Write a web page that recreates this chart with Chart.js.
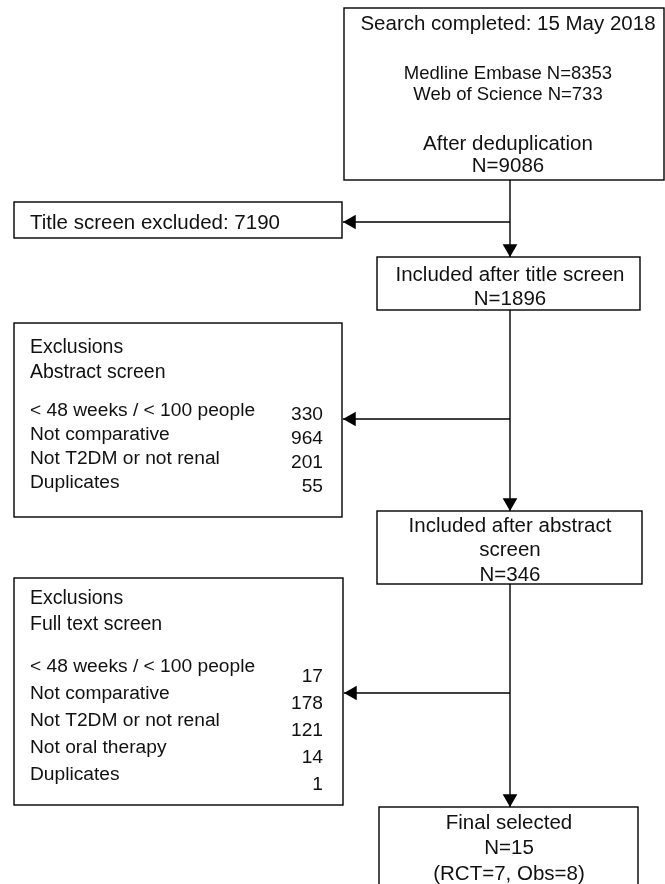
<!DOCTYPE html>
<html>
<head>
<meta charset="utf-8">
<script src="https://cdn.jsdelivr.net/npm/chart.js@4.4.0/dist/chart.umd.min.js"></script>
<style>
  html, body { margin: 0; padding: 0; background: #fff; }
  #wrap { width: 665px; height: 884px; position: relative; }
</style>
</head>
<body>
<div id="wrap"><canvas id="flow"></canvas></div>
<script>
// Flow data (text and counts)
const searchDate = '15 May 2018';
const sourceNames = ['Medline Embase', 'Web of Science'];
const sourceCounts = [8353, 733];
const dedupCount = 9086;
const titleExcluded = 7190;
const titleIncluded = 1896;
const abstractReasons = ['< 48 weeks / < 100 people', 'Not comparative', 'Not T2DM or not renal', 'Duplicates'];
const abstractCounts = [330, 964, 201, 55];
const abstractIncluded = 346;
const fullTextReasons = ['< 48 weeks / < 100 people', 'Not comparative', 'Not T2DM or not renal', 'Not oral therapy', 'Duplicates'];
const fullTextCounts = [17, 178, 121, 14, 1];
const finalSelected = 15;
const studyTypes = ['RCT', 'Obs'];
const studyCounts = [7, 8];

// Layout (plot units = pixels of the 665x884 page, y grows downward)
const FONT = '"Liberation Sans", Arial, Helvetica, sans-serif';
const mainX = 510;
const rowFont = 19.2;

const boxes = [
  { x0: 344, x1: 664, y0: 8, y1: 180, lines: [
    { t: 'Search completed: ' + searchDate, y: 23, size: 20.5 },
    { t: sourceNames[0] + ' N=' + sourceCounts[0], y: 72, size: 18.5 },
    { t: sourceNames[1] + ' N=' + sourceCounts[1], y: 93, size: 18.5 },
    { t: 'After deduplication', y: 143, size: 20.5 },
    { t: 'N=' + dedupCount, y: 165, size: 20.5 }
  ], cx: 508 },
  { x0: 14, x1: 342, y0: 202, y1: 238, lines: [
    { t: 'Title screen excluded: ' + titleExcluded, y: 222, size: 20.5, left: 30 }
  ] },
  { x0: 377, x1: 640, y0: 257, y1: 310, lines: [
    { t: 'Included after title screen', y: 274, size: 20.5 },
    { t: 'N=' + titleIncluded, y: 298, size: 20.5 }
  ], cx: 510 },
  { x0: 14, x1: 342, y0: 323, y1: 517, lines: [
    { t: 'Exclusions', y: 346, size: 19.5, left: 30 },
    { t: 'Abstract screen', y: 371, size: 19.5, left: 30 }
  ], rows: { labels: abstractReasons, counts: abstractCounts, y: 409, yNum: 413.5, step: 24, right: 323 } },
  { x0: 377, x1: 642, y0: 511, y1: 584, lines: [
    { t: 'Included after abstract', y: 525, size: 20.5 },
    { t: 'screen', y: 549, size: 20.5 },
    { t: 'N=' + abstractIncluded, y: 574, size: 20.5 }
  ], cx: 510 },
  { x0: 14, x1: 343, y0: 578, y1: 805, lines: [
    { t: 'Exclusions', y: 597, size: 19.5, left: 30 },
    { t: 'Full text screen', y: 623, size: 19.5, left: 30 }
  ], rows: { labels: fullTextReasons, counts: fullTextCounts, y: 665.5, yNum: 675.5, step: 26.8, right: 323 } },
  { x0: 379, x1: 638, y0: 807, y1: 900, lines: [
    { t: 'Final selected', y: 822, size: 20.5 },
    { t: 'N=' + finalSelected, y: 847, size: 20.5 },
    { t: '(' + studyTypes[0] + '=' + studyCounts[0] + ', ' + studyTypes[1] + '=' + studyCounts[1] + ')', y: 873, size: 20.5 }
  ], cx: 509 }
];

// connectors: arrowhead sits at "to"
const connectors = [
  { from: [mainX, 180], to: [mainX, 257], dir: 'down' },
  { from: [mainX, 222], to: [343, 222], dir: 'left' },
  { from: [mainX, 310], to: [mainX, 511], dir: 'down' },
  { from: [mainX, 419], to: [343, 419], dir: 'left' },
  { from: [mainX, 584], to: [mainX, 807], dir: 'down' },
  { from: [mainX, 693], to: [344, 693], dir: 'left' }
];
const headR = 8.5;

const lineSets = connectors.map(c => ({
  type: 'scatter',
  data: [{ x: c.from[0], y: c.from[1] }, { x: c.to[0], y: c.to[1] }],
  showLine: true,
  borderColor: '#000',
  borderWidth: 1.4,
  pointRadius: 0,
  order: 2
}));

const headSet = {
  type: 'scatter',
  data: connectors.map(c => c.dir === 'down'
    ? { x: c.to[0], y: c.to[1] - headR }
    : { x: c.to[0] + headR, y: c.to[1] }),
  pointStyle: 'triangle',
  pointRadius: headR,
  rotation: connectors.map(c => c.dir === 'down' ? 180 : 270),
  backgroundColor: '#000',
  borderColor: '#000',
  borderWidth: 0,
  order: 1
};

// text y values are visual centres; convert to an alphabetic baseline
function put(ctx, text, x, y, size) {
  ctx.fillText(text, x, y + size * 0.36);
}

const boxPlugin = {
  id: 'boxes',
  beforeDatasetsDraw(chart) {
    const ctx = chart.ctx;
    const xs = chart.scales.x, ys = chart.scales.y;
    ctx.save();
    boxes.forEach(b => {
      const x0 = xs.getPixelForValue(b.x0), x1 = xs.getPixelForValue(b.x1);
      const y0 = ys.getPixelForValue(b.y0), y1 = ys.getPixelForValue(b.y1);
      ctx.fillStyle = '#fff';
      ctx.fillRect(x0, y0, x1 - x0, y1 - y0);
      ctx.strokeStyle = '#000';
      ctx.lineWidth = 1.4;
      ctx.strokeRect(x0, y0, x1 - x0, y1 - y0);
      ctx.fillStyle = '#111';
      ctx.textBaseline = 'alphabetic';
      b.lines.forEach(l => {
        ctx.font = l.size + 'px ' + FONT;
        if (l.left !== undefined) {
          ctx.textAlign = 'left';
          put(ctx, l.t, xs.getPixelForValue(l.left), ys.getPixelForValue(l.y), l.size);
        } else {
          ctx.textAlign = 'center';
          put(ctx, l.t, xs.getPixelForValue(b.cx), ys.getPixelForValue(l.y), l.size);
        }
      });
      if (b.rows) {
        const r = b.rows;
        ctx.font = rowFont + 'px ' + FONT;
        r.labels.forEach((lab, i) => {
          ctx.textAlign = 'left';
          put(ctx, lab, xs.getPixelForValue(30), ys.getPixelForValue(r.y + i * r.step), rowFont);
          ctx.textAlign = 'right';
          put(ctx, String(r.counts[i]), xs.getPixelForValue(r.right), ys.getPixelForValue(r.yNum + i * r.step), rowFont);
        });
      }
    });
    ctx.restore();
  }
};

new Chart(document.getElementById('flow'), {
  type: 'scatter',
  data: { datasets: [...lineSets, headSet] },
  options: {
    responsive: true,
    maintainAspectRatio: false,
    animation: false,
    layout: { padding: 0, autoPadding: false },
    plugins: { legend: { display: false }, tooltip: { enabled: false } },
    scales: {
      x: { type: 'linear', min: 0, max: 665, display: false },
      y: { type: 'linear', min: 0, max: 884, reverse: true, display: false }
    }
  },
  plugins: [boxPlugin]
});
</script>
</body>
</html>
